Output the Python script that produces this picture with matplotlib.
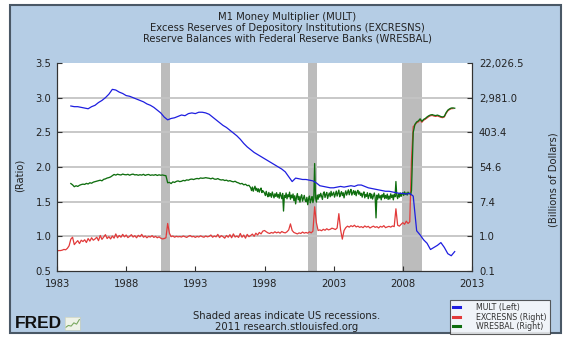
import matplotlib
matplotlib.use('Agg')
import matplotlib.pyplot as plt
import numpy as np
from matplotlib.lines import Line2D
from matplotlib.patches import Rectangle
from matplotlib.ticker import FixedLocator, NullLocator

plt.rcParams['font.family'] = ['DejaVu Sans']

# --- dati ---
recessions = [(1990.5, 1991.2), (2001.17, 2001.83), (2007.92, 2009.42)]

# M1 money multiplier (asse sinistro), trimestrale dal 1984.0
mult_start, mult_step = 1984.0, 0.25
mult = [
    2.88, 2.87, 2.87, 2.86,  2.85, 2.84, 2.87, 2.89,  2.93, 2.96, 3.00, 3.05,
    3.12, 3.11, 3.08, 3.06,  3.03, 3.02, 3.00, 2.98,  2.96, 2.94, 2.91, 2.89,
    2.86, 2.82, 2.78, 2.72,  2.68, 2.70, 2.71, 2.73,  2.75, 2.74, 2.77, 2.78,
    2.77, 2.79, 2.79, 2.78,  2.76, 2.72, 2.68, 2.64,  2.60, 2.57, 2.53, 2.49,
    2.45, 2.40, 2.34, 2.29,  2.25, 2.21, 2.18, 2.15,  2.12, 2.09, 2.06, 2.03,
    2.00, 1.97, 1.93, 1.86,  1.79, 1.84, 1.83, 1.82,  1.82, 1.81, 1.80, 1.77,
    1.73, 1.72, 1.71, 1.70,  1.70, 1.71, 1.72, 1.71,  1.72, 1.73, 1.72, 1.74,
    1.74, 1.72, 1.70, 1.69,  1.68, 1.67, 1.66, 1.65,  1.65, 1.64, 1.63, 1.62,
    1.62, 1.61, 1.62, 1.58,  1.08, 1.02, 0.95, 0.90,  0.81, 0.84, 0.87, 0.91,
    0.84, 0.75, 0.72, 0.78,
]

# Excess reserves (miliardi $, asse destro), passo 1/8 anno dal 1983.0
excr_start, excr_step = 1983.0, 0.125
excresns = [
    0.43, 0.44, 0.44, 0.45, 0.47, 0.46, 0.50, 0.58,
    0.85, 0.95, 0.62, 0.70, 0.78, 0.66, 0.80, 0.74,
    0.82, 0.70, 0.88, 0.76, 0.92, 0.80, 0.86, 0.95,
    0.78, 1.05, 0.84, 0.96, 1.10, 0.88, 0.98, 0.86,
    1.02, 0.90, 1.15, 0.92, 1.05, 0.95, 1.12, 0.97,
    1.08, 0.93, 1.00, 1.10, 0.96, 1.04, 0.92, 1.06,
    0.98, 1.12, 0.95, 1.02, 0.92, 1.00, 0.96, 1.04,
    0.94, 1.00, 0.92, 0.97, 0.90, 0.86, 0.88, 0.92,
    2.10, 1.20, 0.98, 1.02, 0.95, 1.00, 0.97, 0.99,
    0.96, 1.02, 0.98, 0.94, 1.00, 1.05, 0.97, 1.00,
    0.94, 1.00, 0.96, 1.03, 0.98, 0.95, 1.02, 0.97,
    1.00, 1.08, 0.95, 1.02, 0.97, 1.12, 0.93, 1.04,
    0.98, 0.90, 1.05, 0.95, 1.10, 0.92, 1.15, 0.96,
    1.02, 0.94, 1.18, 0.95, 1.08, 0.90, 1.12, 0.98,
    1.05, 1.14, 1.00, 1.20, 1.08, 1.25, 1.15, 1.35,
    1.40, 1.30, 1.22, 1.18, 1.25, 1.20, 1.30, 1.22,
    1.28, 1.20, 1.32, 1.25, 1.22, 1.30, 1.45, 2.05,
    1.40, 1.25, 1.20, 1.15, 1.22, 1.18, 1.28, 1.20,
    1.25, 1.20, 1.30, 1.22, 1.35, 5.50, 2.20, 1.40,
    1.45, 1.38, 1.50, 1.42, 1.55, 1.45, 1.50, 1.60,
    1.55, 1.48, 1.62, 3.70, 1.45, 0.85, 1.40, 1.65,
    1.80, 1.70, 1.85, 1.75, 1.90, 1.72, 1.80, 1.68,
    1.75, 1.65, 1.82, 1.70, 1.78, 1.62, 1.72, 1.80,
    1.68, 1.75, 1.62, 1.78, 1.70, 1.85, 1.65, 1.72,
    1.78, 1.70, 1.82, 1.75, 4.90, 1.90, 1.80, 2.00,
    2.20, 2.00, 2.40, 2.10, 2.30, 80.0, 560.0, 620.0,
    700.0, 740.0, 830.0, 720.0, 810.0, 860.0, 930.0, 1000.0,
    1050.0, 1070.0, 1030.0, 1010.0, 1040.0, 1000.0, 960.0, 940.0,
    980.0, 1200.0, 1390.0, 1500.0, 1580.0, 1590.0,
]

# Reserve balances (miliardi $, asse destro), in tre tratti
wres_a = [  # 1984.0 - 1996.875, passo 1/8
    21.0, 19.5, 17.5, 18.5, 17.8, 19.0, 19.8, 20.3,
    20.0, 21.2, 20.5, 22.0, 21.4, 22.8, 23.5, 24.2,
    24.8, 25.5, 24.6, 26.8, 27.5, 28.9, 29.6, 30.8,
    33.0, 35.5, 34.2, 36.0, 35.0, 34.5, 36.3, 35.2,
    34.8, 35.8, 34.0, 35.5, 36.2, 34.6, 35.1, 33.9,
    35.0, 34.2, 35.8, 33.6, 34.9, 35.5, 33.8, 34.6,
    34.0, 35.2, 33.5, 34.8, 33.9, 34.5, 33.6, 33.0,
    22.0, 22.5, 21.0, 23.2, 22.4, 23.8, 24.5, 23.5,
    24.0, 25.2, 24.6, 26.0, 25.5, 26.8, 27.2, 26.5,
    27.5, 28.2, 27.6, 29.0, 28.5, 28.8, 29.5, 28.9,
    28.5, 27.6, 28.8, 27.2, 26.9, 28.0, 26.5, 25.8,
    26.2, 25.0, 25.6, 24.2, 24.9, 23.8, 23.2, 24.0,
    22.5, 21.8, 20.6, 21.2, 19.5, 20.2, 18.6, 19.0,
]
wres_b = [  # 1997.0 - 2008.5625, passo 1/16 (tratto molto rumoroso)
    16.5, 14.0, 17.2, 13.5, 15.8, 18.0, 14.2, 16.0, 13.2, 15.5, 12.8, 14.9, 16.2, 12.5, 14.0, 13.0,
    12.2, 10.5, 13.4, 11.0, 9.8, 12.6, 10.2, 11.8, 9.5, 12.9, 10.8, 9.2, 11.6, 10.0, 12.4, 9.6,
    11.2, 9.0, 12.5, 10.4, 8.8, 11.9, 4.3, 10.6, 9.4, 12.2, 8.7, 11.0, 9.8, 12.8, 8.5, 10.8,
    9.2, 11.5, 7.8, 10.4, 6.5, 9.6, 11.8, 8.2, 10.0, 7.2, 9.8, 11.0, 7.6, 9.0, 10.6, 8.0,
    7.4, 9.5, 6.2, 8.8, 10.2, 6.9, 8.4, 9.9, 7.0, 8.8, 66.7, 9.5, 7.2, 10.8, 8.5, 11.2,
    9.6, 12.0, 10.2, 8.4, 11.8, 13.0, 9.4, 11.2, 12.6, 8.9, 10.8, 12.2, 9.8, 13.4, 10.4, 11.6,
    12.8, 9.6, 11.4, 13.6, 10.2, 12.0, 14.4, 9.8, 11.6, 13.2, 10.5, 12.4, 9.2, 11.8, 13.8, 10.8,
    12.6, 14.6, 11.0, 13.2, 15.0, 10.8, 12.4, 14.0, 11.2, 13.6, 10.4, 12.8, 14.2, 11.4, 13.0, 10.6,
    12.0, 9.6, 11.8, 13.0, 9.2, 11.2, 10.0, 12.4, 8.8, 10.6, 12.0, 9.0, 11.4, 8.6, 10.2, 12.2,
    9.4, 2.9, 10.8, 8.6, 11.6, 9.2, 10.4, 8.2, 11.0, 9.6, 12.0, 8.8, 10.6, 9.0, 11.4, 8.4,
    10.2, 8.6, 11.6, 9.4, 10.8, 8.2, 11.2, 9.8, 23.6, 10.4, 8.8, 11.6, 9.6, 12.2, 10.0, 11.4,
    12.4, 10.6, 13.0, 11.2, 12.2, 10.8, 12.8, 11.6, 12.0, 11.0,
]
wres_c = [  # 2008.625 - 2011.75, passo 1/8
    14.0, 400.0, 640.0,
    735.0, 780.0, 880.0, 760.0, 850.0, 900.0, 980.0, 1050.0,
    1100.0, 1120.0, 1080.0, 1060.0, 1090.0, 1050.0, 1000.0, 980.0,
    1020.0, 1250.0, 1450.0, 1560.0, 1640.0, 1650.0, 1620.0,
]
wres_segments = [(1984.0, 1 / 8, wres_a), (1997.0, 1 / 16, wres_b), (2008.625, 1 / 8, wres_c)]

left_ticks = [0.5, 1.0, 1.5, 2.0, 2.5, 3.0, 3.5]
right_exp = [-2, 0, 2, 4, 6, 8, 10]
right_labels = ['0.1', '1.0', '7.4', '54.6', '403.4', '2,981.0', '22,026.5']
year_ticks = [1983, 1988, 1993, 1998, 2003, 2008, 2013]

titles = ['M1 Money Multiplier (MULT)',
          'Excess Reserves of Depository Institutions (EXCRESNS)',
          'Reserve Balances with Federal Reserve Banks (WRESBAL)']

colors = {'MULT': '#1e1ee0', 'EXCRESNS': '#e23a3a', 'WRESBAL': '#0f6e0f'}

W, H = 578, 344
fig = plt.figure(figsize=(W / 100, H / 100), dpi=100, facecolor='white')

# pannello azzurro stile FRED
fig.patches.append(Rectangle((10 / W, 11 / H), 551 / W, 328 / H,
                             transform=fig.transFigure, facecolor='#b5cde5',
                             edgecolor='#4a5866', lw=1.5, zorder=-5))

for i, t in enumerate(titles):
    fig.text(287 / W, 1 - (17.5 + 10.5 * i) / H, t, ha='center', va='center',
             fontsize=7.2, color='#222222')

ax2 = fig.add_axes([57 / W, 73 / H, 415 / W, 208 / H])
ax = ax2.twinx()
ax.yaxis.tick_left()
ax.yaxis.set_label_position('left')
ax2.yaxis.tick_right()
ax2.yaxis.set_label_position('right')
ax.set_zorder(ax2.get_zorder() + 1)
ax.patch.set_visible(False)
ax2.patch.set_visible(True)
ax2.set_facecolor('white')

# asse destro logaritmico in base e
ax2.set_yscale('log', base=np.e)
ax2.set_ylim(np.exp(-2), np.exp(10))
ax2.yaxis.set_major_locator(FixedLocator(np.exp(right_exp)))
ax2.yaxis.set_minor_locator(NullLocator())
ax2.set_yticklabels(right_labels)

for a, b in recessions:
    ax2.axvspan(a, b, color='#bcbcbc', lw=0, zorder=0.5)
for e in right_exp[1:-1]:
    ax2.axhline(np.exp(e), color='#c4c4c4', lw=1.3, zorder=0.6)

x_excr = excr_start + excr_step * np.arange(len(excresns))
x_mult = mult_start + mult_step * np.arange(len(mult))
x_wres = np.concatenate([s + d * np.arange(len(v)) for s, d, v in wres_segments])
wresbal = np.concatenate([v for _, _, v in wres_segments])

ax2.plot(x_excr, excresns, color=colors['EXCRESNS'], lw=0.9, zorder=2)
ax2.plot(x_wres, wresbal, color=colors['WRESBAL'], lw=0.95, zorder=3)
ax.plot(x_mult, mult, color=colors['MULT'], lw=0.9, zorder=3)

ax.set_ylim(0.5, 3.5)
ax.set_yticks(left_ticks)
ax.set_yticklabels([f'{v:.1f}' for v in left_ticks])
ax2.set_xlim(1983, 2013)
ax2.set_xticks(year_ticks)
ax2.set_xticklabels([str(y) for y in year_ticks])

for a in (ax, ax2):
    a.spines['top'].set_visible(False)
    for s in ('left', 'right', 'bottom'):
        a.spines[s].set_color('#333333')
        a.spines[s].set_linewidth(0.8)
    a.tick_params(direction='in', length=3.5, width=0.8, labelsize=7.2,
                  colors='#333333', labelcolor='#222222')
ax.tick_params(axis='y', pad=4)
ax2.tick_params(axis='y', pad=5)
ax2.tick_params(axis='x', pad=6)

ax.set_ylabel('(Ratio)', fontsize=7.2, color='#222222')
ax.yaxis.set_label_coords(-0.077, 0.46)
ax2.set_ylabel('(Billions of Dollars)', fontsize=7.2, color='#222222')
ax2.yaxis.set_label_coords(1.185, 0.44)

# note in basso
fig.text(287 / W, 1 - 316 / H, 'Shaded areas indicate US recessions.',
         ha='center', va='center', fontsize=7.2, color='#222222')
fig.text(287 / W, 1 - 327.5 / H, '2011 research.stlouisfed.org',
         ha='center', va='center', fontsize=7.2, color='#222222')

# logo FRED
fig.text(15 / W, 1 - 323 / H, 'FRED', ha='left', va='center', fontsize=12.5,
         fontweight='bold', family=['Liberation Sans', 'DejaVu Sans'], color='#111111')
icon_y = [0.2, 0.35, 0.3, 0.55, 0.45, 0.8]
axi = fig.add_axes([65 / W, 14 / H, 15 / W, 13 / H])
axi.set_facecolor('#eef2e8')
axi.plot(range(len(icon_y)), icon_y, color='#7aa860', lw=0.8)
axi.set_ylim(0, 1)
axi.set_xticks([])
axi.set_yticks([])
for s in axi.spines.values():
    s.set_color('#c8d0c0')
    s.set_linewidth(0.5)

# legenda
handles = [Line2D([], [], color=colors[k], lw=2.2) for k in colors]
labels = ['MULT (Left)', 'EXCRESNS (Right)', 'WRESBAL (Right)']
leg = fig.legend(handles, labels, loc='upper left',
                 bbox_to_anchor=(450 / W, 1 - 300 / H), fontsize=5.7,
                 frameon=True, fancybox=False, handlelength=0.9,
                 handletextpad=2.0, borderpad=0.4, labelspacing=0.05,
                 borderaxespad=0)
leg.get_frame().set_edgecolor('#333333')
leg.get_frame().set_linewidth(0.8)
for t in leg.get_texts():
    t.set_color('#333333')

fig.savefig('out.png', dpi=100)
